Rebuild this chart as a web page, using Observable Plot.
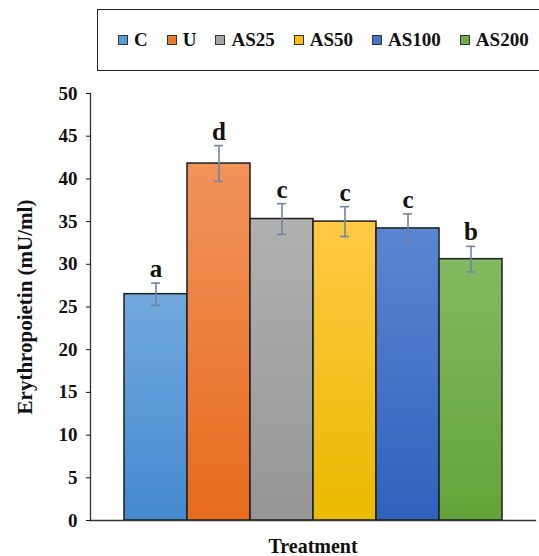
<!DOCTYPE html>
<html>
<head>
<meta charset="utf-8">
<script src="https://cdn.jsdelivr.net/npm/d3@7"></script>
<script src="https://cdn.jsdelivr.net/npm/@observablehq/plot@0.6"></script>
<style>
  html, body { margin: 0; padding: 0; background: #fff; }
  #wrap { position: relative; width: 539px; height: 556px; overflow: hidden; font-family: "Liberation Serif", serif; }
  #legend { position: relative; height: 80px; }
  #legend .box {
    position: absolute; left: 97px; top: 9px; width: 470px; height: 60px;
    border: 1.6px solid #222; box-sizing: content-box;
    display: flex; align-items: center; padding-left: 20px;
  }
  #legend .item { display: flex; align-items: center; margin-right: 19px; font-weight: bold; font-size: 19px; color: #111; }
  #legend .sw { width: 8px; height: 8px; border: 1px solid #333; margin-right: 6px; }
  #chart svg { display: block; }
</style>
</head>
<body>
<div id="wrap">
  <div id="legend"><div class="box"></div></div>
  <div id="chart"></div>
</div>
<script>
// Erythropoietin level per treatment group
const groups = ["C", "U", "AS25", "AS50", "AS100", "AS200"];
const means = [26.5, 41.8, 35.3, 35.0, 34.2, 30.6];
const errors = [1.3, 2.1, 1.8, 1.75, 1.7, 1.5];
const letters = ["a", "d", "c", "c", "c", "b"];

// Fill colours: legend swatch, gradient top, gradient bottom
const swatch = ["#5b9bd5", "#ed7d31", "#a5a5a5", "#ffc000", "#4472c4", "#70ad47"];
const gradTop = ["#72a9dd", "#f1935c", "#b1b1b1", "#ffc944", "#5b86d1", "#82b962"];
const gradBottom = ["#4589cf", "#e66b1c", "#959595", "#eab900", "#3061bd", "#62a439"];

const rows = groups.map((g, i) => ({
  group: g, mean: means[i], err: errors[i], letter: letters[i], idx: i
}));

// Legend
const box = d3.select("#legend .box");
groups.forEach((g, i) => {
  const item = box.append("div").attr("class", "item");
  item.append("div").attr("class", "sw").style("background", swatch[i]);
  item.append("span").text(g);
});

const font = "'Liberation Serif', serif";

// Gradient definitions used by the bars
const gradients = () => {
  const defs = d3.create("svg:defs");
  groups.forEach((g, i) => {
    const lg = defs.append("linearGradient")
      .attr("id", `bar-grad-${i}`)
      .attr("x1", 0).attr("y1", 0).attr("x2", 0).attr("y2", 1);
    lg.append("stop").attr("offset", "0%").attr("stop-color", gradTop[i]);
    lg.append("stop").attr("offset", "100%").attr("stop-color", gradBottom[i]);
  });
  return defs.node();
};

const chart = Plot.plot({
  width: 539,
  height: 476,
  marginTop: 13,
  marginBottom: 36,
  marginLeft: 90,
  marginRight: 4,
  style: { fontFamily: font, fontWeight: "bold", fontSize: "19px", color: "#111", background: "#fff" },
  x: { domain: groups, paddingInner: 0, paddingOuter: 0.5, axis: null },
  y: { domain: [0, 50] },
  color: { type: "identity" },
  marks: [
    gradients,
    Plot.barY(rows, {
      x: "group", y: "mean",
      fill: d => `url(#bar-grad-${d.idx})`,
      stroke: "#1e1e1e", strokeWidth: 1.5
    }),
    Plot.ruleX(rows, {
      x: "group", y1: d => d.mean - d.err, y2: d => d.mean + d.err,
      stroke: "#6f86a4", strokeWidth: 1.6
    }),
    Plot.tickY(rows, {
      x: "group", y: d => d.mean + d.err,
      stroke: "#6f86a4", strokeWidth: 1.6, insetLeft: 27, insetRight: 27
    }),
    Plot.tickY(rows, {
      x: "group", y: d => d.mean - d.err,
      stroke: "#6f86a4", strokeWidth: 1.6, insetLeft: 27, insetRight: 27
    }),
    Plot.text(rows, {
      x: "group", y: d => d.mean + d.err, text: "letter",
      lineAnchor: "bottom", dy: -6, fontSize: 25, fontWeight: "bold", fill: "#111"
    }),
    Plot.frame({ anchor: "left", stroke: "#333", strokeWidth: 1.3 }),
    Plot.frame({ anchor: "bottom", stroke: "#333", strokeWidth: 1.3 }),
    Plot.axisY({
      ticks: d3.range(0, 51, 5), tickSize: 4, tickPadding: 9, tickFormat: d => d,
      label: "Erythropoietin (mU/ml)", labelAnchor: "center", labelArrow: "none", labelOffset: 73,
      fontSize: 19, fontWeight: "bold"
    }),
    Plot.axisX({
      ticks: [], label: "Treatment", labelAnchor: "center", labelArrow: "none", labelOffset: 32,
      fontSize: 20, fontWeight: "bold"
    })
  ]
});

// y-axis title slightly larger than tick labels
d3.select(chart).selectAll("text").filter(function () {
  return this.textContent === "Erythropoietin (mU/ml)";
}).attr("font-size", 21);

document.getElementById("chart").appendChild(chart);
</script>
</body>
</html>
